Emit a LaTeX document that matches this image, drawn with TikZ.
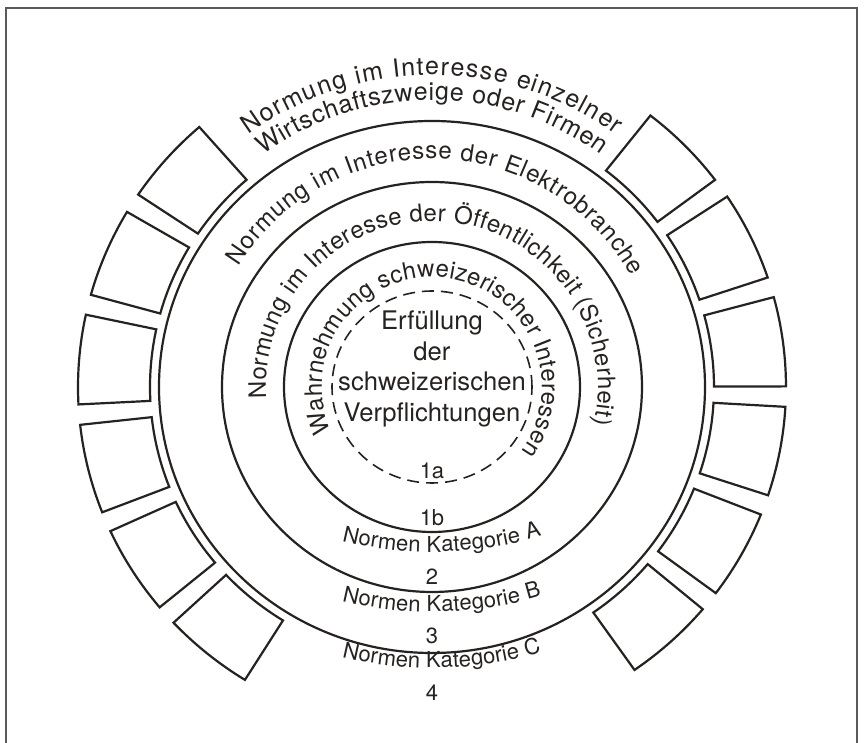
\documentclass[tikz,border=0pt]{standalone}
\usepackage{fontspec}
\setmainfont{TeX Gyre Heros}
\usepackage{xcolor}
\usepackage{tikz}
\usetikzlibrary{decorations.text}
\definecolor{inkc}{RGB}{38,34,32}
\newcommand{\curvefont}{\fontsize{12}{14}\selectfont\color{inkc}}
\newcommand{\topfont}{\fontsize{12.5}{14}\selectfont\color{inkc}}
\newcommand{\catfont}{\fontsize{11}{13}\selectfont\color{inkc}}

\begin{document}
\begin{tikzpicture}[x=0.5pt,y=0.5pt]
            \tikzstyle{every node}=[font=\fontsize{11}{13}\selectfont, text=inkc]
            \tikzstyle{ring}=[draw=inkc, line width=1.1pt]
            \tikzstyle{sector}=[draw=inkc, line width=1.1pt]
            \tikzstyle{frameline}=[draw=inkc!75, line width=0.6pt]
            \tikzstyle{bendtext}=[decorate, decoration={text along path, text align=fit to path}]
            \useasboundingbox (-432,-356) rectangle (432,387);
            % frame
            \draw [frameline] (-426,-356) -- (-426,379) -- (425,379) -- (425,-356);
            % rings
            \draw [ring, dash pattern=on 6pt off 3.5pt, line width=0.8pt] (0,0) ellipse [x radius=100, y radius=96];
            \draw [ring] (0,0) ellipse [x radius=148, y radius=145];
            \draw [ring] (0,0) ellipse [x radius=210, y radius=205];
            \draw [ring] (0,0) ellipse [x radius=273, y radius=266];
            % boxes left
            \draw [sector] (131.1:282 and 275) -- (131.1:354 and 345) arc[start angle=131.1, end angle=146.1, x radius=354, y radius=345] -- (146.1:282 and 275) arc[start angle=146.1, end angle=131.1, x radius=282, y radius=275] -- cycle;
            \draw [sector] (149.5:282 and 275) -- (149.5:354 and 345) arc[start angle=149.5, end angle=164.5, x radius=354, y radius=345] -- (164.5:282 and 275) arc[start angle=164.5, end angle=149.5, x radius=282, y radius=275] -- cycle;
            \draw [sector] (167.9:282 and 275) -- (167.9:354 and 345) arc[start angle=167.9, end angle=182.9, x radius=354, y radius=345] -- (182.9:282 and 275) arc[start angle=182.9, end angle=167.9, x radius=282, y radius=275] -- cycle;
            \draw [sector] (186.3:282 and 275) -- (186.3:354 and 345) arc[start angle=186.3, end angle=201.3, x radius=354, y radius=345] -- (201.3:282 and 275) arc[start angle=201.3, end angle=186.3, x radius=282, y radius=275] -- cycle;
            \draw [sector] (204.7:282 and 275) -- (204.7:354 and 345) arc[start angle=204.7, end angle=219.7, x radius=354, y radius=345] -- (219.7:282 and 275) arc[start angle=219.7, end angle=204.7, x radius=282, y radius=275] -- cycle;
            \draw [sector] (223.1:282 and 275) -- (223.1:354 and 345) arc[start angle=223.1, end angle=238.1, x radius=354, y radius=345] -- (238.1:282 and 275) arc[start angle=238.1, end angle=223.1, x radius=282, y radius=275] -- cycle;
            % boxes right
            \draw [sector] (36.9:282 and 275) -- (36.9:354 and 345) arc[start angle=36.9, end angle=51.9, x radius=354, y radius=345] -- (51.9:282 and 275) arc[start angle=51.9, end angle=36.9, x radius=282, y radius=275] -- cycle;
            \draw [sector] (18.5:282 and 275) -- (18.5:354 and 345) arc[start angle=18.5, end angle=33.5, x radius=354, y radius=345] -- (33.5:282 and 275) arc[start angle=33.5, end angle=18.5, x radius=282, y radius=275] -- cycle;
            \draw [sector] (0.1:282 and 275) -- (0.1:354 and 345) arc[start angle=0.1, end angle=15.1, x radius=354, y radius=345] -- (15.1:282 and 275) arc[start angle=15.1, end angle=0.1, x radius=282, y radius=275] -- cycle;
            \draw [sector] (-18.3:282 and 275) -- (-18.3:354 and 345) arc[start angle=-18.3, end angle=-3.3, x radius=354, y radius=345] -- (-3.3:282 and 275) arc[start angle=-3.3, end angle=-18.3, x radius=282, y radius=275] -- cycle;
            \draw [sector] (-36.7:282 and 275) -- (-36.7:354 and 345) arc[start angle=-36.7, end angle=-21.7, x radius=354, y radius=345] -- (-21.7:282 and 275) arc[start angle=-21.7, end angle=-36.7, x radius=282, y radius=275] -- cycle;
            \draw [sector] (-55.1:282 and 275) -- (-55.1:354 and 345) arc[start angle=-55.1, end angle=-40.1, x radius=354, y radius=345] -- (-40.1:282 and 275) arc[start angle=-40.1, end angle=-55.1, x radius=282, y radius=275] -- cycle;
            % curved titles
            \path [bendtext, decoration={text={|\topfont|Normung im Interesse einzelner}}] (126:312) arc[start angle=126, end angle=54, radius=312];
            \path [bendtext, decoration={text={|\topfont|Wirtschaftszweige oder Firmen}}] (126:287) arc[start angle=126, end angle=54, radius=287];
            \path [bendtext, decoration={text={|\curvefont|Normung im Interesse der Elektrobranche}}] (148:228) arc[start angle=148, end angle=29, radius=228];
            \path [bendtext, decoration={text={|\curvefont|Normung im Interesse der Öffentlichkeit (Sicherheit)}}] (184:166) arc[start angle=184, end angle=-13, radius=166];
            \path [bendtext, decoration={text={|\curvefont|Wahrnehmung schweizerischer Interessen}}] (204:110) arc[start angle=204, end angle=-36, radius=110];
            % middle
            \node [align=center, font=\fontsize{12.8}{15.4}\selectfont] (duty) at (0,18) {Erfüllung\\der\\schweizerischen\\Verpflichtungen};
            \node (lab1a) at (0,-84) {1a};
            \node (lab1b) at (0,-131) {1b};
            \node (lab2) at (0,-190) {2};
            \node (lab3) at (0,-249) {3};
            \node (lab4) at (0,-306) {4};
            % categories
            \path [bendtext, shift={(0,215)}, decoration={text={|\catfont|Normen Kategorie A}}] (256.3:380) arc[start angle=256.3, end angle=286.8, radius=380];
            \path [bendtext, shift={(0,155)}, decoration={text={|\catfont|Normen Kategorie B}}] (256.3:380) arc[start angle=256.3, end angle=286.8, radius=380];
            \path [bendtext, shift={(0,99)}, decoration={text={|\catfont|Normen Kategorie C}}] (256.3:380) arc[start angle=256.3, end angle=286.8, radius=380];
        \end{tikzpicture}
\end{document}
